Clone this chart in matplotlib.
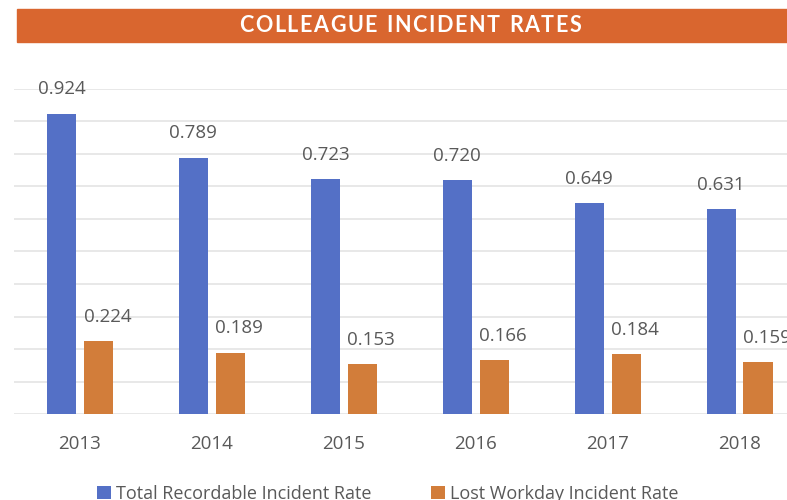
import numpy as np
from matplotlib import pyplot as plt
from matplotlib.patches import Rectangle

# Chart data
years = ['2013', '2014', '2015', '2016', '2017', '2018']
total_rate = [0.924, 0.789, 0.723, 0.720, 0.649, 0.631]
lost_rate = [0.224, 0.189, 0.153, 0.166, 0.184, 0.159]
series_names = ['Total Recordable Incident Rate', 'Lost Workday Incident Rate']
title = 'COLLEAGUE INCIDENT RATES'

blue = '#5470C6'
orange = '#D27D3A'
banner = '#D9662F'
grey = '#595959'

plt.rcParams['font.family'] = ['Open Sans', 'DejaVu Sans']

fig = plt.figure(dpi=100, figsize=(7.87, 5.0))

# Orange banner with tracked-out title
fig.patches.append(Rectangle((17 / 787, 1 - 41.5 / 500), 1.0, 32.5 / 500,
                             transform=fig.transFigure, color=banner, zorder=0))

fig.canvas.draw()
renderer = fig.canvas.get_renderer()
tracking = 1.6  # extra px between letters
pieces = []
widths = []
for ch in title:
    t = fig.text(0, 0, ch, fontsize=15.5, fontweight='bold', family=['Lato', 'DejaVu Sans'],
                 color='white', va='center', ha='left')
    w = t.get_window_extent(renderer).width if ch != ' ' else 6
    pieces.append(t)
    widths.append(w)
total_w = sum(widths) + tracking * (len(title) - 1)
x = 410 - total_w / 2
for t, w in zip(pieces, widths):
    t.set_position((x / 787, 1 - 25.5 / 500))
    x += w + tracking

# Plot area
ax = fig.add_axes([14 / 787, 1 - 414 / 500, 791.5 / 787, 325 / 500])
idx = np.arange(len(years))
width = 0.22
off = 0.14
b1 = ax.bar(idx - off, total_rate, width, color=blue, label=series_names[0], zorder=2)
b2 = ax.bar(idx + off, lost_rate, width, color=orange, label=series_names[1], zorder=2)

for xi, v in zip(idx - off, total_rate):
    ax.annotate(f'{v:.3f}', (xi, v), xytext=(0, 17.5), textcoords='offset points',
                ha='center', va='center', fontsize=13.5, color=grey)
for xi, v in zip(idx + off, lost_rate):
    ax.annotate(f'{v:.3f}', (xi, v), xytext=(6.5, 17.5), textcoords='offset points',
                ha='center', va='center', fontsize=13.5, color=grey, annotation_clip=False)

ax.set_xlim(-0.5, len(years) - 0.5)
ax.set_ylim(0, 1.0)
ax.set_yticks(np.arange(0, 1.01, 0.1))
ax.set_yticklabels([])
ax.set_xticks(idx)
ax.set_xticklabels(years, fontsize=13.5, color=grey)
ax.tick_params(axis='both', length=0)
ax.tick_params(axis='x', pad=15)
ax.yaxis.grid(True, color='#E4E4E4', linewidth=1.2, zorder=0)
ax.set_axisbelow(True)
for s in ax.spines.values():
    s.set_visible(False)

fig.legend(handles=[b1, b2], labels=series_names, loc='center', ncol=2,
           bbox_to_anchor=(388 / 787, 1 - 494 / 500), frameon=False,
           fontsize=13, labelcolor=grey, handlelength=0.75, handleheight=0.75,
           handletextpad=0.3, columnspacing=3.3, borderpad=0)

plt.savefig('out.png', dpi=100)
